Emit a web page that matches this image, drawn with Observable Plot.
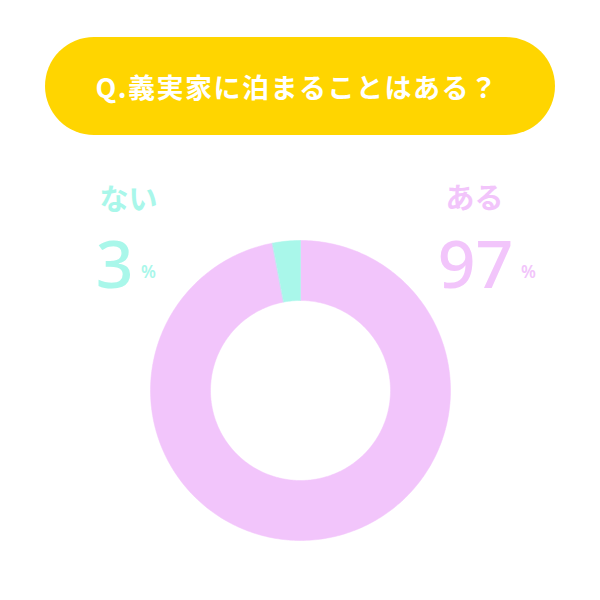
<!DOCTYPE html>
<html>
<head>
<meta charset="utf-8">
<script src="https://cdn.jsdelivr.net/npm/d3@7"></script>
<script src="https://cdn.jsdelivr.net/npm/@observablehq/plot@0.6"></script>
<style>
  html, body { margin: 0; padding: 0; background: #ffffff; }
  #wrap { width: 600px; height: 600px; position: relative; overflow: hidden; background: #fff; }
  #head { height: 150px; position: relative; }
  #pill {
    position: absolute; left: 45px; top: 37px; width: 510px; height: 98px;
    border-radius: 49px; background: #FFD500;
    display: flex; align-items: center; justify-content: center;
    color: #ffffff; font-family: "Noto Sans CJK JP", sans-serif; font-weight: 700;
    font-size: 27px; letter-spacing: 1.5px; padding-right: 6px; box-sizing: border-box;
  }
  #chart svg { display: block; }
</style>
</head>
<body>
<div id="wrap">
  <div id="head"><div id="pill"></div></div>
  <div id="chart"></div>
</div>
<script>
const title = "Q.義実家に泊まることはある？";
const categories = ["ある", "ない"];
const values = [97, 3];
const colors = ["#F2C5FB", "#A9F7EA"];

document.getElementById("pill").textContent = title;

// Build slice polygons (clockwise from 12 o'clock) from the values
const outerR = 150, innerR = 90;
const total = d3.sum(values);
const pts = [];
let start = 0;
categories.forEach((c, i) => {
  const end = start + values[i] / total * 2 * Math.PI;
  const n = Math.max(4, Math.ceil((end - start) / (Math.PI / 180)));
  for (let k = 0; k <= n; k++) {
    const a = start + (end - start) * k / n;
    pts.push({cat: c, x: outerR * Math.sin(a), y: outerR * Math.cos(a)});
  }
  for (let k = n; k >= 0; k--) {
    const a = start + (end - start) * k / n;
    pts.push({cat: c, x: innerR * Math.sin(a), y: innerR * Math.cos(a)});
  }
  start = end;
});

const labelData = categories.map((c, i) => ({cat: c, value: values[i]}));
const jp = "Noto Sans CJK JP";
const num = "Noto Sans";

const plot = Plot.plot({
  width: 600,
  height: 450,
  margin: 0,
  x: {domain: [-300, 300], range: [0, 600], axis: null},
  y: {domain: [-210, 240], range: [450, 0], axis: null},
  color: {domain: categories, range: colors},
  marks: [
    Plot.line(pts, {x: "x", y: "y", z: "cat", fill: "cat", stroke: "cat", strokeWidth: 0.5, curve: "linear-closed"}),
    // ない
    Plot.text([labelData[1]], {text: "cat", fill: "cat", frameAnchor: "top-left", dx: 128, dy: 50,
      fontSize: 29, fontWeight: 700, fontFamily: jp, textAnchor: "middle", lineAnchor: "middle"}),
    Plot.text([labelData[1]], {text: d => String(d.value), fill: "cat", frameAnchor: "top-left", dx: 114, dy: 137,
      fontSize: 66, fontWeight: 500, fontFamily: num, textAnchor: "middle", lineAnchor: "bottom"}),
    Plot.text([labelData[1]], {text: d => "%", fill: "cat", frameAnchor: "top-left", dx: 148, dy: 122,
      fontSize: 17, fontWeight: 600, fontFamily: num, textAnchor: "middle", lineAnchor: "middle"}),
    // ある
    Plot.text([labelData[0]], {text: "cat", fill: "cat", frameAnchor: "top-left", dx: 474, dy: 49,
      fontSize: 29, fontWeight: 700, fontFamily: jp, textAnchor: "middle", lineAnchor: "middle"}),
    Plot.text([labelData[0]], {text: d => String(d.value), fill: "cat", frameAnchor: "top-left", dx: 475, dy: 137,
      fontSize: 66, fontWeight: 500, fontFamily: num, textAnchor: "middle", lineAnchor: "bottom"}),
    Plot.text([labelData[0]], {text: d => "%", fill: "cat", frameAnchor: "top-left", dx: 528, dy: 122,
      fontSize: 17, fontWeight: 600, fontFamily: num, textAnchor: "middle", lineAnchor: "middle"})
  ]
});
document.getElementById("chart").appendChild(plot);
</script>
</body>
</html>
